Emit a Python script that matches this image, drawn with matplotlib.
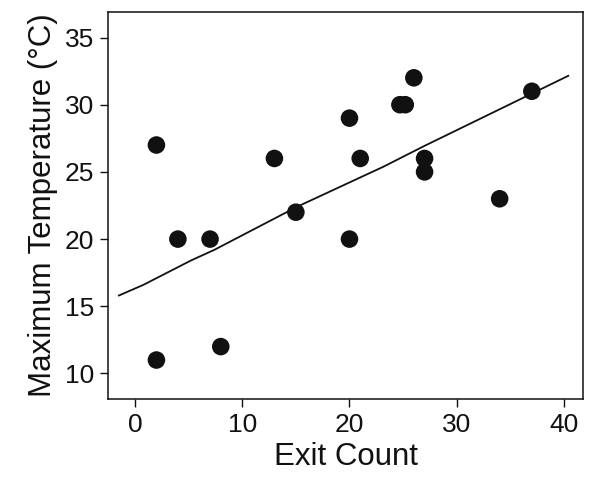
import numpy as np
import matplotlib
matplotlib.use("Agg")
import matplotlib.pyplot as plt

plt.rcParams["font.family"] = ["Liberation Sans", "DejaVu Sans"]

# observations
exit_count = [2, 2, 4, 7, 8, 13, 15, 20, 20, 21, 24.7, 25.2, 26, 27, 27, 34, 37]
max_temp = [27, 11, 20, 20, 12, 26, 22, 29, 20, 26, 30, 30, 32, 26, 25, 23, 31]

# smoothed fit curve
fit_x = [-1.5, 0.8, 5.2, 7.4, 15.1, 23.2, 26.9, 40.4]
fit_y = [15.8, 16.6, 18.4, 19.2, 22.4, 25.4, 26.9, 32.15]

ink = "#111111"

fig = plt.figure(figsize=(5.91, 4.79), dpi=100)
ax = fig.add_axes([0.183, 0.167, 0.804, 0.808])

ax.plot(fit_x, fit_y, color=ink, lw=1.3, zorder=2)
ax.scatter(exit_count, max_temp, s=160, color=ink, edgecolors="none", zorder=3)

ax.set_xlim(-2.5, 41.8)
ax.set_ylim(8.1, 36.9)
ax.set_xticks([0, 10, 20, 30, 40])
ax.set_yticks([10, 15, 20, 25, 30, 35])

ax.set_xlabel("Exit Count", fontsize=22.5, color=ink, labelpad=4)
ax.set_ylabel("Maximum Temperature (°C)", fontsize=22.5, color=ink, labelpad=5)
ax.tick_params(labelsize=19, colors=ink, length=6, width=1.0, pad=4)
for s in ax.spines.values():
    s.set_linewidth(1.1)
    s.set_color(ink)

fig.savefig("out.png", dpi=100)
